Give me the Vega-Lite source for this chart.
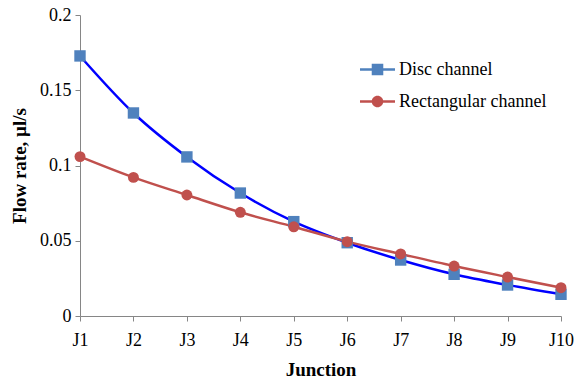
{
  "$schema": "https://vega.github.io/schema/vega-lite/v6.json",
  "width": 481,
  "height": 301,
  "autosize": {"type": "none"},
  "padding": {"left": 80, "top": 15, "right": 14, "bottom": 66},
  "background": "white",
  "config": {
    "view": {"stroke": null},
    "font": "Liberation Serif",
    "axis": {"grid": false, "domainColor": "#868686", "tickColor": "#868686", "labelColor": "#000000", "titleColor": "#000000", "labelFont": "Liberation Serif", "titleFont": "Liberation Serif", "labelFontSize": 18, "titleFontSize": 19, "titleFontWeight": "bold", "tickSize": 5},
    "legend": {"title": null, "orient": "none", "labelFontSize": 18, "labelFont": "Liberation Serif", "labelColor": "#000000", "symbolSize": 1225, "symbolStrokeWidth": 0, "labelOffset": 4, "padding": 0}
  },
  "data": {"values": [
    {"junction": "J1", "series": "Disc channel", "flow": 0.1728},
    {"junction": "J2", "series": "Disc channel", "flow": 0.1349},
    {"junction": "J3", "series": "Disc channel", "flow": 0.1057},
    {"junction": "J4", "series": "Disc channel", "flow": 0.0817},
    {"junction": "J5", "series": "Disc channel", "flow": 0.0627},
    {"junction": "J6", "series": "Disc channel", "flow": 0.0487},
    {"junction": "J7", "series": "Disc channel", "flow": 0.0372},
    {"junction": "J8", "series": "Disc channel", "flow": 0.0277},
    {"junction": "J9", "series": "Disc channel", "flow": 0.0206},
    {"junction": "J10", "series": "Disc channel", "flow": 0.0144},
    {"junction": "J1", "series": "Rectangular channel", "flow": 0.1059},
    {"junction": "J2", "series": "Rectangular channel", "flow": 0.0921},
    {"junction": "J3", "series": "Rectangular channel", "flow": 0.0804},
    {"junction": "J4", "series": "Rectangular channel", "flow": 0.0689},
    {"junction": "J5", "series": "Rectangular channel", "flow": 0.0593},
    {"junction": "J6", "series": "Rectangular channel", "flow": 0.0494},
    {"junction": "J7", "series": "Rectangular channel", "flow": 0.0412},
    {"junction": "J8", "series": "Rectangular channel", "flow": 0.0332},
    {"junction": "J9", "series": "Rectangular channel", "flow": 0.0259},
    {"junction": "J10", "series": "Rectangular channel", "flow": 0.0188}
  ]},
  "encoding": {
    "x": {"field": "junction", "type": "ordinal", "sort": null, "scale": {"type": "point", "padding": 0},
      "axis": {"title": "Junction", "labelAngle": 0, "labelPadding": 10, "titlePadding": 11}},
    "y": {"field": "flow", "type": "quantitative", "scale": {"domain": [0, 0.2], "nice": false},
      "axis": {"title": "Flow rate, µl/s", "values": [0, 0.05, 0.1, 0.15, 0.2], "format": "~g", "labelPadding": 4, "titlePadding": 10}}
  },
  "layer": [
    {
      "mark": {"type": "line", "strokeWidth": 2.5, "interpolate": "monotone"},
      "encoding": {
        "color": {"field": "series", "type": "nominal", "scale": {"domain": ["Disc channel", "Rectangular channel"], "range": ["#0000FF", "#C0504D"]}, "legend": null}
      }
    },
    {
      "transform": [{"filter": "datum.series === 'Disc channel'"}],
      "mark": {"type": "point", "filled": true, "opacity": 1, "size": 130, "shape": "square"},
      "encoding": {
        "color": {"field": "series", "type": "nominal", "scale": {"domain": ["Disc channel"], "range": ["#4F81BD"]},
          "legend": {"legendX": 280, "legendY": 37, "symbolType": "M-1,-0.075H-0.3V0.075H-1Z M0.3,-0.075H1V0.075H0.3Z M-0.33,-0.33H0.33V0.33H-0.33Z"}}
      }
    },
    {
      "transform": [{"filter": "datum.series === 'Rectangular channel'"}],
      "mark": {"type": "point", "filled": true, "opacity": 1, "size": 120, "shape": "circle"},
      "encoding": {
        "color": {"field": "series", "type": "nominal", "scale": {"domain": ["Rectangular channel"], "range": ["#C0504D"]},
          "legend": {"legendX": 280, "legendY": 69, "symbolType": "M-1,-0.075H-0.3V0.075H-1Z M0.3,-0.075H1V0.075H0.3Z M-0.33,0A0.33,0.33 0 1,1 0.33,0A0.33,0.33 0 1,1 -0.33,0Z"}}
      }
    }
  ],
  "resolve": {"scale": {"color": "independent"}, "legend": {"color": "independent"}}
}
